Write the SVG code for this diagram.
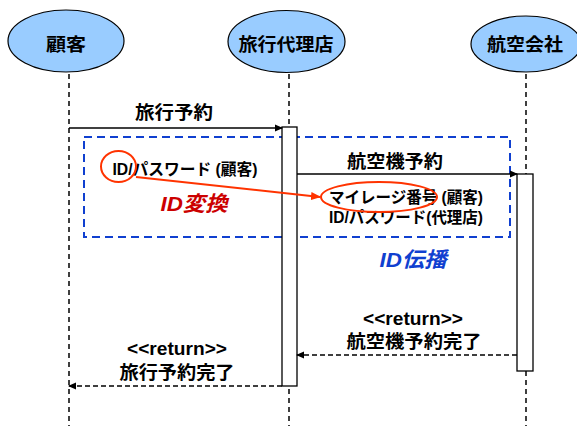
<svg xmlns="http://www.w3.org/2000/svg" width="577" height="426" viewBox="0 0 577 426">
<defs>
<marker id="ah" markerWidth="8" markerHeight="8" refX="7" refY="4" orient="auto" markerUnits="userSpaceOnUse">
<path d="M0,0.5 L8,4 L0,7.5 Z" fill="#000"/>
</marker>
<marker id="ahr" markerWidth="10" markerHeight="10" refX="9" refY="5" orient="auto" markerUnits="userSpaceOnUse">
<path d="M0,1 L10,5 L0,9 Z" fill="#FF3300"/>
</marker>
</defs>
<style>
text{font-family:"Liberation Sans","Noto Sans CJK JP",sans-serif;font-weight:bold;fill:#000;text-anchor:middle}
.actor{fill:#99CCFF;stroke:#000;stroke-width:1.2}
.life{stroke:#000;stroke-width:1.5;stroke-dasharray:5 4;fill:none}
.act{fill:#fff;stroke:#000;stroke-width:1.3}
.msg{stroke:#000;stroke-width:1.3;fill:none}
.ret{stroke:#000;stroke-width:1.3;fill:none;stroke-dasharray:5 3}
.blue{fill:none;stroke:#1040D0;stroke-width:2;stroke-dasharray:8 5}
.red{fill:none;stroke:#FF3300;stroke-width:2}
.t18{font-size:18px}
.t16{font-size:16px}
.em{font-size:21px;font-style:italic}
</style>
<rect width="577" height="426" fill="#fff"/>
<g id="lifelines">
<line class="life" x1="69" y1="74" x2="69" y2="426"/>
<line class="life" x1="289" y1="74" x2="289" y2="426"/>
<line class="life" x1="526" y1="74" x2="526" y2="426"/>
</g>
<g id="customer">
<ellipse class="actor" cx="66" cy="41" rx="58" ry="31"/>
<text class="t18" x="66" y="51" textLength="40" lengthAdjust="spacingAndGlyphs">顧客</text>
</g>
<g id="agency">
<ellipse class="actor" cx="286.5" cy="41.5" rx="58.5" ry="31"/>
<text class="t18" x="286" y="51" textLength="95" lengthAdjust="spacingAndGlyphs">旅行代理店</text>
</g>
<g id="airline">
<ellipse class="actor" cx="526" cy="44" rx="55" ry="28"/>
<text class="t18" x="525" y="51" textLength="76" lengthAdjust="spacingAndGlyphs">航空会社</text>
</g>
<g id="id-propagation">
<rect class="blue" x="84" y="137" width="426" height="100"/>
<text class="em" x="413" y="267" fill="#1040D0" style="fill:#1040D0" textLength="67" lengthAdjust="spacingAndGlyphs">ID伝播</text>
</g>
<g id="agency-activation">
<rect class="act" x="282" y="127" width="15" height="259"/>
</g>
<g id="airline-activation">
<rect class="act" x="517" y="174" width="16" height="197"/>
</g>
<g id="connectors">
<line class="msg" x1="69" y1="128" x2="282" y2="128" marker-end="url(#ah)"/>
<text class="t18" x="174" y="119" textLength="78" lengthAdjust="spacingAndGlyphs">旅行予約</text>
<line class="msg" x1="297" y1="174" x2="517" y2="174" marker-end="url(#ah)"/>
<text class="t18" x="395" y="168" textLength="96" lengthAdjust="spacingAndGlyphs">航空機予約</text>
<line class="ret" x1="517" y1="355" x2="297" y2="355" marker-end="url(#ah)"/>
<text class="t18" x="413" y="325" textLength="100" lengthAdjust="spacingAndGlyphs">&lt;&lt;return&gt;&gt;</text>
<text class="t18" x="414" y="348" textLength="135" lengthAdjust="spacingAndGlyphs">航空機予約完了</text>
<line class="ret" x1="282" y1="386" x2="69" y2="386" marker-end="url(#ah)"/>
<text class="t18" x="177" y="355" textLength="100" lengthAdjust="spacingAndGlyphs">&lt;&lt;return&gt;&gt;</text>
<text class="t18" x="177" y="379" textLength="115" lengthAdjust="spacingAndGlyphs">旅行予約完了</text>
</g>
<g id="id-conversion">
<text class="t16" x="185" y="175" textLength="145" lengthAdjust="spacingAndGlyphs">ID/パスワード (顧客)</text>
<text class="t16" x="406" y="203" textLength="154" lengthAdjust="spacingAndGlyphs">マイレージ番号 (顧客)</text>
<text class="t16" x="406" y="223" textLength="154" lengthAdjust="spacingAndGlyphs">ID/パスワード(代理店)</text>
<ellipse class="red" cx="118.5" cy="166.5" rx="17.5" ry="15.5"/>
<ellipse class="red" cx="379" cy="197" rx="58" ry="15"/>
<line class="red" x1="136" y1="177" x2="320" y2="197" marker-end="url(#ahr)"/>
<text class="em" x="194" y="211" style="fill:#CC0000" textLength="67" lengthAdjust="spacingAndGlyphs">ID変換</text>
</g>
</svg>
